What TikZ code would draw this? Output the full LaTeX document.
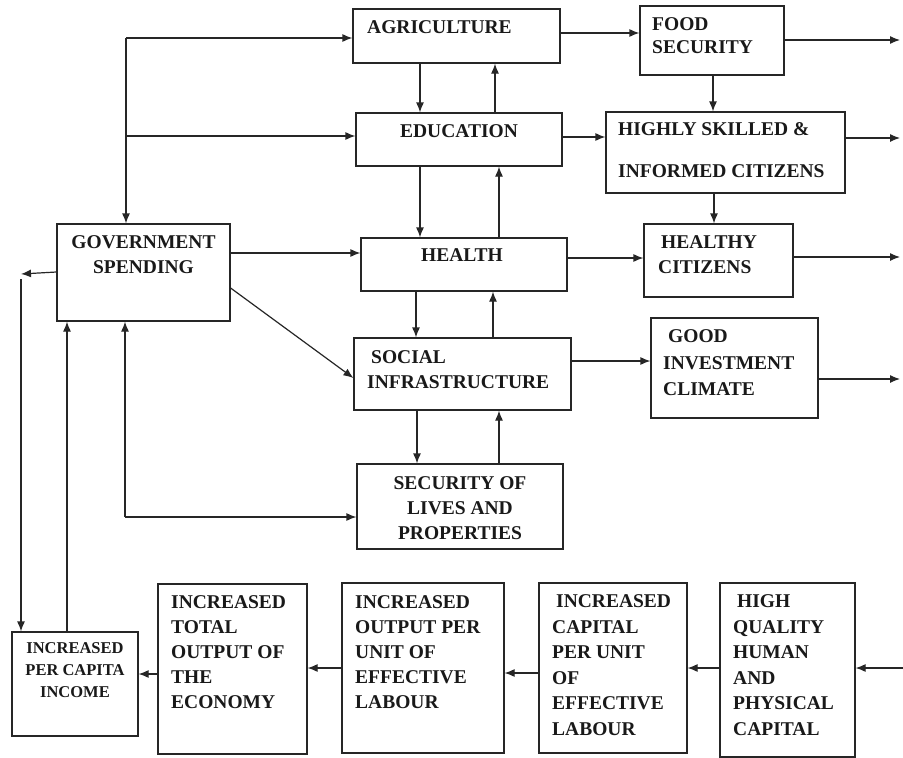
\documentclass[tikz,border=0pt]{standalone}
\usepackage{fontspec}
\setmainfont{Liberation Serif}
\usetikzlibrary{arrows.meta}
\begin{document}
\begin{tikzpicture}[x=1pt,y=-1pt,
  box/.style={draw=black!85, line width=1.2pt, inner sep=0pt},
  txt/.style={inner sep=0pt, align=left, font=\bfseries\fontsize{19.5}{25}\selectfont, text=black!90},
  arr/.style={draw=black!85, line width=1.2pt, -{Latex[length=10pt,width=8pt]}},
  ln/.style={draw=black!85, line width=1.2pt}]
\useasboundingbox (0,0) rectangle (903,758);
\fill[white] (0,0) rectangle (903,758);

% boxes
\node[box, minimum width=207pt, minimum height=54pt] (agri) at (456.5,36) {};
\node[box, minimum width=144pt, minimum height=69pt] (food) at (712,40.5) {};
\node[box, minimum width=206pt, minimum height=53pt] (edu) at (459,139.5) {};
\node[box, minimum width=239pt, minimum height=81pt] (skilled) at (725.5,152.5) {};
\node[box, minimum width=173pt, minimum height=97pt] (gov) at (143.5,272.5) {};
\node[box, minimum width=206pt, minimum height=53pt] (health) at (464,264.5) {};
\node[box, minimum width=149pt, minimum height=73pt] (healthy) at (718.5,260.5) {};
\node[box, minimum width=217pt, minimum height=72pt] (social) at (462.5,374) {};
\node[box, minimum width=167pt, minimum height=100pt] (good) at (734.5,368) {};
\node[box, minimum width=206pt, minimum height=85pt] (secur) at (460,506.5) {};
\node[box, minimum width=126pt, minimum height=104pt] (pci) at (75,684) {};
\node[box, minimum width=149pt, minimum height=170pt] (total) at (232.5,669) {};
\node[box, minimum width=162pt, minimum height=170pt] (outp) at (423,668) {};
\node[box, minimum width=148pt, minimum height=170pt] (capl) at (613,668) {};
\node[box, minimum width=135pt, minimum height=174pt] (hq) at (787.5,670) {};

% texts
\node[txt, anchor=north west] (tagri) at (367,20.4) {AGRICULTURE};
\node[txt, anchor=north west, font=\bfseries\fontsize{19.5}{23}\selectfont] (tfood) at (652,17.4) {FOOD\\SECURITY};
\node[txt, anchor=north] (tedu) at (459,124.4) {EDUCATION};
\node[txt, anchor=north west, font=\bfseries\fontsize{19.5}{42}\selectfont] (tskilled) at (618,122.4) {HIGHLY SKILLED \&\\INFORMED CITIZENS};
\node[txt, anchor=north, align=center] (tgov) at (143.5,235.4) {GOVERNMENT\\SPENDING};
\node[txt, anchor=north] (thealth) at (462,248.4) {HEALTH};
\node[txt, anchor=north west] (thealthy) at (658,235.4) {\hspace*{3pt}HEALTHY\\CITIZENS};
\node[txt, anchor=north west] (tsocial) at (367,350.4) {\hspace*{4pt}SOCIAL\\INFRASTRUCTURE};
\node[txt, anchor=north west, font=\bfseries\fontsize{19.5}{26.5}\selectfont] (tgood) at (663,329.4) {\hspace*{5pt}GOOD\\INVESTMENT\\CLIMATE};
\node[txt, anchor=north, align=center] (tsecur) at (460,476.4) {SECURITY OF\\LIVES AND\\PROPERTIES};
\node[txt, anchor=north, align=center, font=\bfseries\fontsize{16.5}{22}\selectfont] (tpci) at (75,642.5) {INCREASED\\PER CAPITA\\INCOME};
\node[txt, anchor=north west] (ttotal) at (171,595.4) {INCREASED\\TOTAL\\OUTPUT OF\\THE\\ECONOMY};
\node[txt, anchor=north west] (toutp) at (355,595.4) {INCREASED\\OUTPUT PER\\UNIT OF\\EFFECTIVE\\LABOUR};
\node[txt, anchor=north west, font=\bfseries\fontsize{19.5}{25.6}\selectfont] (tcapl) at (552,594.4) {\hspace*{4pt}INCREASED\\CAPITAL\\PER UNIT\\OF\\EFFECTIVE\\LABOUR};
\node[txt, anchor=north west, font=\bfseries\fontsize{19.5}{25.6}\selectfont] (thq) at (733,594.4) {\hspace*{4pt}HIGH\\QUALITY\\HUMAN\\AND\\PHYSICAL\\CAPITAL};

% helper coordinates
\coordinate (jtop) at (126,38);
\coordinate (jedu) at (126,136);
\coordinate (jsec) at (125,517);
\coordinate (gl) at (21,274);
\coordinate (gl2) at (21,279);
\coordinate (x67) at (67,0);
\coordinate (x420) at (420,0);
\coordinate (x495) at (495,0);
\coordinate (x499) at (499,0);
\coordinate (x416) at (416,0);
\coordinate (x493) at (493,0);
\coordinate (x417) at (417,0);
\coordinate (x713) at (713,0);
\coordinate (x714) at (714,0);
\coordinate (y33) at (0,33);
\coordinate (y137) at (0,137);
\coordinate (y253) at (0,253);
\coordinate (y258) at (0,258);
\coordinate (y272) at (0,272);
\coordinate (y288) at (0,288);
\coordinate (y378) at (0,378);
\coordinate (y361) at (0,361);
\coordinate (y668) at (0,668);
\coordinate (y673) at (0,673);
\coordinate (y674) at (0,674);
\coordinate (r1) at (900,40);
\coordinate (r2) at (900,138);
\coordinate (r3) at (900,257);
\coordinate (r4) at (900,379);
\coordinate (rin) at (903,668);

% government spending links
\draw[ln] (jtop) -- (jedu);
\draw[arr] (jtop) -- (jtop |- gov.north);
\draw[arr] (jtop) -- (jtop -| agri.west);
\draw[arr] (jedu) -- (jedu -| edu.west);
\draw[arr] (gov.east |- y253) -- (health.west |- y253);
\draw[arr] (gov.east |- y288) -- (social.west |- y378);
\draw[arr] (gov.west |- y272) -- (gl);
\draw[arr] (gl2) -- (gl2 |- pci.north);
\draw[arr] (x67 |- pci.north) -- (x67 |- gov.south);
\draw[arr] (jsec) -- (jsec |- gov.south);
\draw[arr] (jsec) -- (jsec -| secur.west);

% middle column
\draw[arr] (x420 |- agri.south) -- (x420 |- edu.north);
\draw[arr] (x495 |- edu.north) -- (x495 |- agri.south);
\draw[arr] (x420 |- edu.south) -- (x420 |- health.north);
\draw[arr] (x499 |- health.north) -- (x499 |- edu.south);
\draw[arr] (x416 |- health.south) -- (x416 |- social.north);
\draw[arr] (x493 |- social.north) -- (x493 |- health.south);
\draw[arr] (x417 |- social.south) -- (x417 |- secur.north);
\draw[arr] (x499 |- secur.north) -- (x499 |- social.south);

% to outcomes
\draw[arr] (agri.east |- y33) -- (food.west |- y33);
\draw[arr] (edu.east |- y137) -- (skilled.west |- y137);
\draw[arr] (x713 |- food.south) -- (x713 |- skilled.north);
\draw[arr] (x714 |- skilled.south) -- (x714 |- healthy.north);
\draw[arr] (health.east |- y258) -- (healthy.west |- y258);
\draw[arr] (social.east |- y361) -- (good.west |- y361);

% to right edge
\draw[arr] (food.east |- r1) -- (r1);
\draw[arr] (skilled.east |- r2) -- (r2);
\draw[arr] (healthy.east |- r3) -- (r3);
\draw[arr] (good.east |- r4) -- (r4);

% bottom chain
\draw[arr] (rin) -- (rin -| hq.east);
\draw[arr] (hq.west |- y668) -- (capl.east |- y668);
\draw[arr] (capl.west |- y673) -- (outp.east |- y673);
\draw[arr] (outp.west |- y668) -- (total.east |- y668);
\draw[arr] (total.west |- y674) -- (pci.east |- y674);
\end{tikzpicture}
\end{document}
